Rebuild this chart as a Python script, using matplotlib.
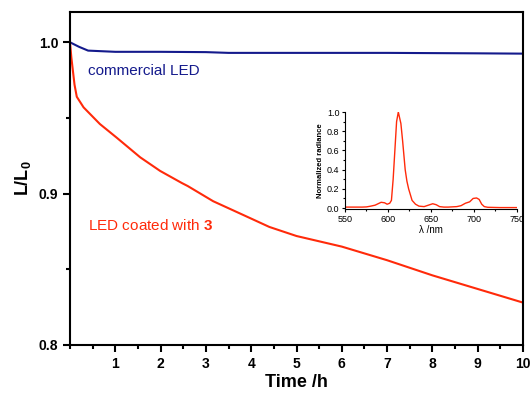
import matplotlib.pyplot as plt
from matplotlib.ticker import MultipleLocator, FixedLocator

plt.rcParams['font.family'] = ['Liberation Sans', 'DejaVu Sans']
plt.rcParams['mathtext.fontset'] = 'custom'
plt.rcParams['mathtext.rm'] = 'Liberation Sans'
plt.rcParams['mathtext.bf'] = 'Liberation Sans:bold'

# luminance decay data
t_red = [0, 0.03, 0.1, 0.15, 0.3, 0.66, 1.03, 1.55, 1.99, 2.47, 2.6, 3.16, 4.0, 4.4, 5.0, 6.0, 7.0, 8.0, 9.0, 10.0]
L_red = [1.0, 0.99, 0.972, 0.964, 0.957, 0.946, 0.937, 0.924, 0.915, 0.907, 0.905, 0.895, 0.8835, 0.878, 0.872, 0.865, 0.856, 0.846, 0.837, 0.828]
t_blue = [0, 0.2, 0.4, 1.0, 2.0, 3.0, 3.5, 5.0, 7.0, 9.0, 10.0]
L_blue = [1.0, 0.997, 0.9945, 0.9937, 0.9937, 0.9935, 0.993, 0.993, 0.993, 0.9927, 0.9925]

# emission spectrum
wl = [550, 560, 570, 575, 580, 585, 592, 596, 599, 602, 604, 606, 608, 610, 612, 615, 617, 620, 622, 624, 628, 632, 636, 642, 647, 652, 656, 660, 665, 670, 680, 685, 690, 695, 699, 703, 706, 709, 712, 716, 730, 750]
rad = [0.01, 0.01, 0.01, 0.012, 0.02, 0.03, 0.06, 0.055, 0.04, 0.05, 0.08, 0.3, 0.6, 0.9, 1.0, 0.88, 0.7, 0.4, 0.28, 0.2, 0.08, 0.04, 0.02, 0.015, 0.03, 0.045, 0.035, 0.015, 0.01, 0.01, 0.015, 0.025, 0.05, 0.065, 0.1, 0.105, 0.09, 0.04, 0.015, 0.008, 0.005, 0.005]

red = '#ff2a0a'
blue = '#141a8c'

fig = plt.figure(figsize=(5.31, 3.94), dpi=100)
ax = fig.add_axes([0.1318, 0.1244, 0.8532, 0.8451])
ax.plot(t_blue, L_blue, color=blue, lw=1.5)
ax.plot(t_red, L_red, color=red, lw=1.5)
ax.set_xlim(0, 10)
ax.set_ylim(0.8, 1.02)
ax.xaxis.set_major_locator(FixedLocator(range(1, 11)))
ax.xaxis.set_minor_locator(MultipleLocator(0.5))
ax.yaxis.set_major_locator(FixedLocator([0.8, 0.9, 1.0]))
ax.yaxis.set_minor_locator(FixedLocator([0.85, 0.95]))
ax.set_yticklabels(['0.8', '0.9', '1.0'])
ax.tick_params(which='both', direction='out', width=1.5, labelsize=10, top=False, right=False)
ax.tick_params(which='major', length=5)
ax.tick_params(which='minor', length=3)
for lab in ax.get_xticklabels() + ax.get_yticklabels():
    lab.set_fontweight('bold')
for s in ax.spines.values():
    s.set_linewidth(1.5)
ax.set_xlabel('Time /h', fontsize=13, fontweight='bold', labelpad=2)
ax.set_ylabel('L/L$_\\mathbf{0}$', fontsize=13, fontweight='bold', labelpad=4)

ax.text(0.4, 0.981, 'commercial LED', color=blue, fontsize=11, va='center')
ax.text(0.4, 0.879, 'LED coated with $\\mathbf{3}$', color=red, fontsize=11, va='center')

ins = fig.add_axes([0.6497, 0.4695, 0.3239, 0.2462])
ins.plot(wl, rad, color=red, lw=1)
ins.set_xlim(550, 750)
ins.set_ylim(-0.01, 1.0)
ins.set_xticks([550, 600, 650, 700, 750])
ins.set_yticks([0.0, 0.2, 0.4, 0.6, 0.8, 1.0])
ins.set_yticklabels(['0.0', '0.2', '0.4', '0.6', '0.8', '1.0'])
ins.xaxis.set_minor_locator(MultipleLocator(25))
ins.yaxis.set_minor_locator(MultipleLocator(0.1))
ins.tick_params(which='both', direction='out', labelsize=6.5, width=0.8, pad=1.5)
ins.tick_params(which='major', length=2.5)
ins.tick_params(which='minor', length=1.5)
ins.spines['top'].set_visible(False)
ins.spines['right'].set_visible(False)
ins.set_xlabel('λ /nm', fontsize=7, labelpad=1)
ins.set_ylabel('Normalized radiance', fontsize=5.5, fontweight='bold', labelpad=2)

fig.savefig('out.png', dpi=100)
